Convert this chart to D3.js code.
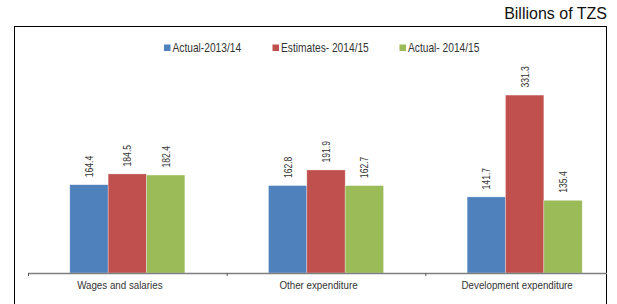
<!DOCTYPE html>
<html>
<head>
<meta charset="utf-8">
<script src="https://cdn.jsdelivr.net/npm/d3@7"></script>
<style>
  body { margin: 0; background: #fff; }
  svg { display: block; }
  text { font-family: "Liberation Sans", Arial, sans-serif; }
</style>
</head>
<body>
<script>
var categories = ["Wages and salaries", "Other expenditure", "Development expenditure"]
var seriesNames = ["Actual-2013/14", "Estimates- 2014/15", "Actual- 2014/15"]
var actual1314 = [164.4, 162.8, 141.7]
var estimates1415 = [184.5, 191.9, 331.3]
var actual1415 = [182.4, 162.7, 135.4]
var colors = ["#4F81BD", "#C0504D", "#9BBB59"]

var seriesValues = [actual1314, estimates1415, actual1415]

var screen = {width: 617, height: 304}
var plot = {left: 28, right: 624, baseline: 273, clipRight: 607}
var narrow = 0.85 // squeeze Liberation Sans to look like Arial Narrow

var svg = d3.select("body")
  .append("svg")
  .attr("width", screen.width)
  .attr("height", screen.height)

// outer frame
svg.append("rect")
  .attr("x", 14.5)
  .attr("y", 26.5)
  .attr("width", 592)
  .attr("height", 300)
  .attr("fill", "none")
  .attr("stroke", "#000")
  .attr("stroke-width", 1)

svg.append("text")
  .attr("x", 607)
  .attr("y", 18.5)
  .attr("text-anchor", "end")
  .style("font-size", "16px")
  .attr("fill", "#111")
  .text("Billions of TZS")

svg.append("clipPath")
  .attr("id", "plotclip")
  .append("rect")
  .attr("x", 0).attr("y", 0)
  .attr("width", plot.clipRight).attr("height", screen.height)

var xScale = d3.scaleBand()
  .domain(categories)
  .range([plot.left, plot.right])
  .padding(0)

var xInner = d3.scaleBand()
  .domain(seriesNames)
  .range([0, xScale.bandwidth()])
  .paddingInner(0)
  .paddingOuter(1.09)

var yScale = d3.scaleLinear()
  .domain([0, 350])
  .range([plot.baseline, plot.baseline - 350 * 0.537])

var rows = []
categories.forEach(function(c, i) {
  seriesNames.forEach(function(s, j) {
    rows.push({cat: c, series: s, value: seriesValues[j][i], color: colors[j]})
  })
})

var g = svg.append("g").attr("clip-path", "url(#plotclip)")

g.selectAll("rect.bar")
  .data(rows)
  .enter()
  .append("rect")
  .attr("class", "bar")
  .attr("x", function(d) { return xScale(d.cat) + xInner(d.series) })
  .attr("y", function(d) { return yScale(d.value) })
  .attr("width", xInner.bandwidth())
  .attr("height", function(d) { return plot.baseline - yScale(d.value) })
  .attr("fill", function(d) { return d.color })
  .attr("stroke", "rgba(255,255,255,0.5)")
  .attr("stroke-width", 0.6)

// value labels, rotated
g.selectAll("text.val")
  .data(rows)
  .enter()
  .append("text")
  .attr("class", "val")
  .attr("transform", function(d) {
    var cx = xScale(d.cat) + xInner(d.series) + xInner.bandwidth() / 2
    var cy = yScale(d.value) - 7.5
    return "translate(" + cx + "," + cy + ") rotate(-90) scale(0.78,1)"
  })
  .attr("dy", "0.36em")
  .attr("text-anchor", "start")
  .style("font-size", "11px")
  .attr("fill", "#333")
  .text(function(d) { return d.value.toFixed(1) })

// category axis: ticks on the category edges
var xEdge = d3.scaleLinear().domain([0, categories.length]).range([plot.left, plot.right])
var xAxis = d3.axisBottom(xEdge)
  .tickValues([0, 1, 2, 3])
  .tickFormat("")
  .tickSize(3)
  .tickSizeOuter(0)

var axisG = g.append("g")
  .attr("transform", "translate(0," + plot.baseline + ")")
  .call(xAxis)
axisG.select(".domain").attr("stroke", "#7f7f7f").attr("stroke-width", 1.3)
axisG.selectAll(".tick line").attr("stroke", "#555")

svg.selectAll("text.cat")
  .data(categories)
  .enter()
  .append("text")
  .attr("class", "cat")
  .attr("transform", function(d) {
    var cx = xScale(d) + xScale.bandwidth() / 2 - 7.5
    return "translate(" + cx + ",289) scale(" + narrow + ",1)"
  })
  .attr("text-anchor", "middle")
  .style("font-size", "11.5px")
  .attr("fill", "#333")
  .text(function(d) { return d })

// legend
var legendX = [164, 272.5, 399.5]
var legend = svg.selectAll("g.legend")
  .data(seriesNames)
  .enter()
  .append("g")
  .attr("class", "legend")
  .attr("transform", function(d, i) { return "translate(" + legendX[i] + ",44.5)" })

legend.append("rect")
  .attr("width", 6.5)
  .attr("height", 6.5)
  .attr("fill", function(d, i) { return colors[i] })

legend.append("text")
  .attr("transform", "translate(8.5,7.5) scale(" + narrow + ",1)")
  .style("font-size", "12px")
  .attr("fill", "#333")
  .text(function(d) { return d })
</script>
</body>
</html>
